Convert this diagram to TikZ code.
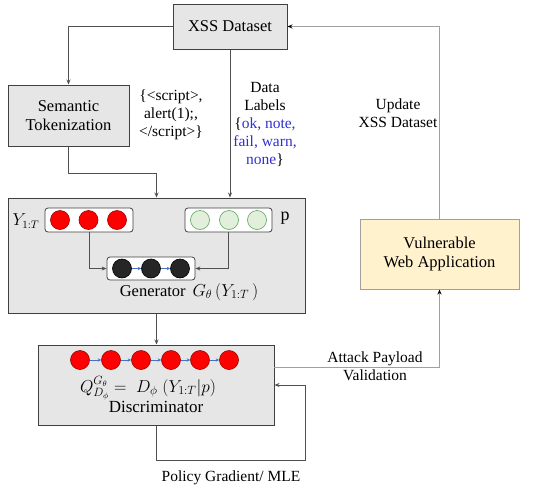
\documentclass[tikz,border=0pt]{standalone}
\usepackage{fontspec}
\setmainfont{Liberation Serif}
\usetikzlibrary{arrows.meta,calc}
\definecolor{boxgray}{HTML}{E6E6E6}
\definecolor{boxline}{HTML}{404040}
\definecolor{yel}{HTML}{FFF2CC}
\definecolor{lgray}{HTML}{A0A0A0}
\definecolor{dgray}{HTML}{505050}
\definecolor{redc}{HTML}{FF0000}
\definecolor{greenc}{HTML}{E2EFDA}
\definecolor{blackc}{HTML}{262626}
\definecolor{bluea}{HTML}{4472C4}
\definecolor{lbl}{HTML}{3030D0}
\tikzset{
  mainbox/.style={draw=boxline, fill=boxgray, line width=1pt, inner sep=0pt, align=center, font=\fontsize{16.5}{19.5}\selectfont},
  innerbox/.style={draw=boxline, fill=white, rounded corners=3pt, line width=0.8pt, inner sep=0pt},
  dot/.style={circle, draw=#1!60!black, line width=0.6pt, minimum size=19pt, inner sep=0pt},
  conn/.style={draw=dgray, line width=0.8pt, -{Stealth[length=5pt,width=4pt]}},
  connl/.style={draw=lgray, line width=1pt, -{Stealth[length=5pt,width=4pt,color=black]}},
  tinyarr/.style={draw=bluea, line width=0.8pt, -{Stealth[length=3.5pt,width=3.5pt]}},
  lab/.style={align=center, font=\fontsize{15.5}{18}\selectfont, inner sep=0pt},
}
\begin{document}
\begin{tikzpicture}[x=1pt,y=-1pt]
\useasboundingbox (0,0) rectangle (550,491);
% main boxes
\node[mainbox, minimum width=114pt, minimum height=45pt] (xss) at (230,26.5) {XSS Dataset};
\node[mainbox, minimum width=121pt, minimum height=61pt] (sem) at (68.5,115.5) {Semantic\\Tokenization};
\node[mainbox, minimum width=297pt, minimum height=115pt] (gen) at (156.5,255.5) {};
\node[mainbox, minimum width=236pt, minimum height=80pt] (disc) at (156,385) {};
\node[mainbox, draw=lgray, fill=yel, minimum width=159pt, minimum height=70pt] (vuln) at (439.5,254) {Vulnerable\\Web Application};
% generator internals
\node[innerbox, minimum width=88pt, minimum height=24pt] (ybox) at (89,220) {};
\node[innerbox, minimum width=87pt, minimum height=24pt] (pbox) at (228.5,220) {};
\node[innerbox, minimum width=88pt, minimum height=23pt] (mid) at (151,268.5) {};
\node[dot=redc, fill=redc] (y1) at (60,220) {};
\node[dot=redc, fill=redc] (y2) at (88.5,220) {};
\node[dot=redc, fill=redc] (y3) at (117,220) {};
\node[dot=green, fill=greenc, draw=green!30!gray] (p1) at (200,220) {};
\node[dot=green, fill=greenc, draw=green!30!gray] (p2) at (229,220) {};
\node[dot=green, fill=greenc, draw=green!30!gray] (p3) at (257,220) {};
\node[dot=blackc, fill=blackc, draw=black] (b1) at (122,268.5) {};
\node[dot=blackc, fill=blackc, draw=black] (b2) at (151,268.5) {};
\node[dot=blackc, fill=blackc, draw=black] (b3) at (180,268.5) {};
\draw[tinyarr] (b1) -- (b2);
\draw[tinyarr] (b2) -- (b3);
\node[font=\fontsize{16}{18}\selectfont, inner sep=0pt] (ylab) at (26,221) {$Y_{1:T}$};
\node[font=\fontsize{18}{18}\selectfont, inner sep=0pt] (plab) at (285,218) {p};
\node[font=\fontsize{16.5}{18}\selectfont, inner sep=0pt] (genlab) at (189,292) {Generator \,$G_\theta\,(Y_{1:T}\,)$};
% discriminator internals
\foreach \i/\x in {1/80,2/111,3/141,4/171,5/200,6/229} {
  \node[dot=redc, fill=redc] (d\i) at (\x,360) {};
}
\foreach \i/\j in {1/2,2/3,3/4,4/5,5/6} { \draw[tinyarr] (d\i) -- (d\j); }
\node[font=\fontsize{17}{18}\selectfont, inner sep=0pt] (form) at (148,388) {$Q^{G_\theta}_{D_\phi} =\; D_\phi\;(Y_{1:T}|p)$};
\node[font=\fontsize{17}{18}\selectfont, inner sep=0pt] (disclab) at (156,407) {Discriminator};
% labels
\node[lab] (script) at (171,115) {\{<script>,\\ alert(1);,\\ </script>\}};
\node[lab] (data) at (265,124.5) {Data\\Labels\\\{\textcolor{lbl}{ok, note,}\\\textcolor{lbl}{fail, warn,}\\\textcolor{lbl}{none}\}};
\node[lab] (upd) at (398,113.5) {Update\\XSS Dataset};
\node[lab] (att) at (375,366.5) {Attack Payload\\Validation};
\node[lab] (pol) at (231,478) {Policy Gradient/ MLE};
% connectors
\draw[conn] (xss.west) -| (sem.north);
\coordinate (s1) at (68.5,173);
\draw[conn] (sem.south) -- (s1) -| (gen.north);
\draw[conn] (xss.south) -- (xss.south |- gen.north);
\draw[conn] (ybox.south) |- (mid.west);
\draw[conn] (pbox.south) |- (mid.east);
\draw[conn] (gen.south) -- (gen.south |- disc.north);
\coordinate (da) at (274,367);
\draw[connl] (da) -| (vuln.south);
\draw[connl] (vuln.north) |- (xss.east);
\coordinate (lp) at (305,460);
\draw[conn] (disc.south) |- (lp) |- (disc.east);
\end{tikzpicture}
\end{document}
